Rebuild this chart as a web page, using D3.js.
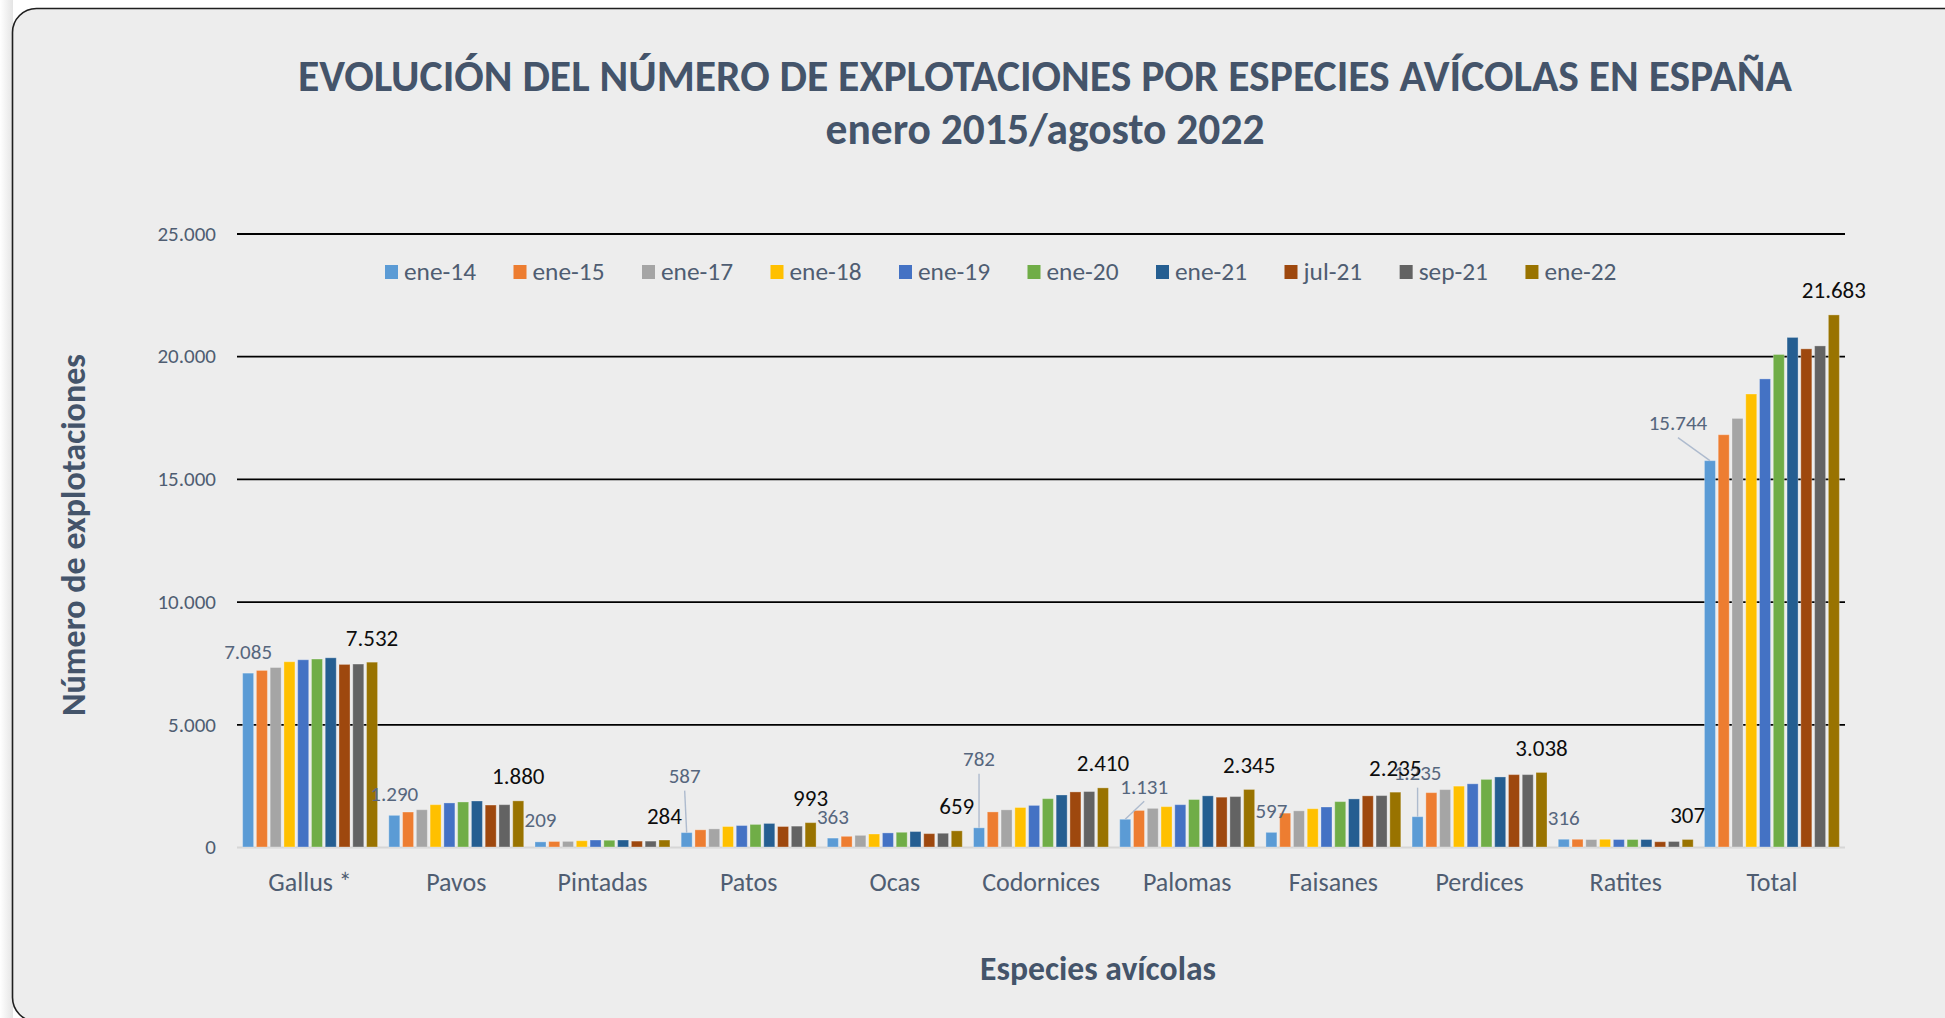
<!DOCTYPE html>
<html>
<head>
<meta charset="utf-8">
<script src="https://cdn.jsdelivr.net/npm/d3@7"></script>
<style>
  body { margin: 0; background: #fff; }
  svg { display: block; }
</style>
</head>
<body>
<svg id="chart" width="1945" height="1018"></svg>
<script>
// categories and series
var categories = ["Gallus *", "Pavos", "Pintadas", "Patos", "Ocas", "Codornices", "Palomas", "Faisanes", "Perdices", "Ratites", "Total"];
var seriesNames = ["ene-14", "ene-15", "ene-17", "ene-18", "ene-19", "ene-20", "ene-21", "jul-21", "sep-21", "ene-22"];

var ene14 = [7085, 1290, 209, 587, 363, 782, 1131, 597, 1235, 316, 15744];
var ene15 = [7195, 1425, 225, 700, 435, 1430, 1490, 1380, 2215, 315, 16800];
var ene17 = [7315, 1520, 230, 740, 475, 1515, 1575, 1475, 2340, 305, 17465];
var ene18 = [7550, 1725, 255, 835, 530, 1610, 1645, 1560, 2480, 315, 18460];
var ene19 = [7630, 1795, 285, 875, 575, 1695, 1725, 1630, 2575, 305, 19075];
var ene20 = [7660, 1835, 275, 920, 600, 1970, 1935, 1850, 2755, 305, 20070];
var ene21 = [7710, 1875, 285, 960, 630, 2120, 2085, 1960, 2855, 305, 20765];
var jul21 = [7440, 1710, 240, 835, 545, 2245, 2030, 2085, 2950, 215, 20300];
var sep21 = [7455, 1725, 240, 850, 560, 2260, 2055, 2095, 2950, 225, 20420];
var ene22 = [7532, 1880, 284, 993, 659, 2410, 2345, 2235, 3038, 307, 21683];

var yTicks = [0, 5000, 10000, 15000, 20000, 25000];

var seriesValues = [ene14, ene15, ene17, ene18, ene19, ene20, ene21, jul21, sep21, ene22];
var colors = ["#5B9BD5", "#ED7D31", "#A5A5A5", "#FFC000", "#4472C4", "#70AD47", "#255E91", "#9E480E", "#636363", "#997300"];

// ene-14 labels that were dragged away from their bar (with a leader line)
var firstLabelNudge = {
  "Patos": [-2, -35],
  "Codornices": [0, -47],
  "Palomas": [19, -11],
  "Perdices": [0, -22],
  "Total": [-32, -16]
};

var FONT = "Carlito, Calibri, Lato, sans-serif";
var SLATE = "#44546A";

var es = d3.formatLocale({ decimal: ",", thousands: ".", grouping: [3], currency: ["", " €"] });
var fmt = es.format(",d");

var svg = d3.select("#chart");

// fit a text to a given width by changing its font size
function fitWidth(sel, w) {
  var cur = sel.node().getComputedTextLength();
  var fs = parseFloat(sel.attr("font-size"));
  sel.attr("font-size", (fs * w / cur).toFixed(2));
}

// chart frame
var grad = svg.append("defs").append("linearGradient").attr("id", "edge");
grad.append("stop").attr("offset", "0%").attr("stop-color", "#ffffff");
grad.append("stop").attr("offset", "100%").attr("stop-color", "#e4e4e4");
svg.append("rect").attr("x", 0).attr("y", 0).attr("width", 13).attr("height", 1018).attr("fill", "url(#edge)");
svg.append("rect")
  .attr("x", 12.5).attr("y", 8.5)
  .attr("width", 2000).attr("height", 1013)
  .attr("rx", 24)
  .attr("fill", "#EDEDED")
  .attr("stroke", "#1f1f1f")
  .attr("stroke-width", 1.6);

// scales
var x0 = d3.scaleBand().domain(categories).range([237, 1845]).paddingInner(0.058).paddingOuter(0.029);
var x1 = d3.scaleBand().domain(seriesNames).range([0, x0.bandwidth()]).paddingInner(0.2).paddingOuter(0.1);
var y = d3.scaleLinear().domain([0, 25000]).range([847, 233.5]);

// y axis + gridlines
var yAxis = d3.axisLeft(y).tickValues(yTicks).tickSize(-(1845 - 237)).tickPadding(21).tickFormat(fmt);
var gy = svg.append("g").attr("transform", "translate(237,0)").call(yAxis);
gy.select(".domain").remove();
gy.selectAll(".tick line")
  .attr("stroke", function(d) { return d === 0 ? "#d6d6d6" : "#000"; })
  .attr("stroke-width", 1.8);
gy.selectAll(".tick text")
  .attr("font-family", FONT)
  .attr("font-size", 21)
  .attr("fill", "#4F5D72");

// bars
var groups = svg.selectAll("g.cat")
  .data(categories)
  .enter().append("g")
  .attr("class", "cat")
  .attr("transform", function(d) { return "translate(" + x0(d) + ",0)"; });

groups.selectAll("rect")
  .data(function(c, ci) {
    return seriesNames.map(function(s, si) { return { s: s, si: si, v: seriesValues[si][ci] }; });
  })
  .enter().append("rect")
  .attr("x", function(d) { return x1(d.s); })
  .attr("width", x1.bandwidth())
  .attr("y", function(d) { return y(d.v); })
  .attr("height", function(d) { return y(0) - y(d.v); })
  .attr("fill", function(d) { return colors[d.si]; })
  .attr("stroke", "rgba(255,255,255,0.3)")
  .attr("stroke-width", 1);

// data labels: first series (with leader lines where moved) and last series
var first = categories.map(function(c, i) {
  var n = firstLabelNudge[c] || [0, 0];
  var bx = x0(c) + x1("ene-14") + x1.bandwidth() / 2;
  var top = y(ene14[i]);
  return { c: c, v: ene14[i], bx: bx, top: top, lx: bx + n[0], ly: top - 22 + n[1], moved: !!firstLabelNudge[c] };
});

svg.selectAll("line.leader")
  .data(first.filter(function(d) { return d.moved; }))
  .enter().append("line")
  .attr("class", "leader")
  .attr("x1", function(d) { return d.lx; })
  .attr("y1", function(d) { return d.ly + 15; })
  .attr("x2", function(d) { return d.bx; })
  .attr("y2", function(d) { return d.top; })
  .attr("stroke", "#AEBBCE")
  .attr("stroke-width", 1.4);

svg.selectAll("text.lab14")
  .data(first)
  .enter().append("text")
  .attr("class", "lab14")
  .attr("x", function(d) { return d.lx; })
  .attr("y", function(d) { return d.ly + 7.5; })
  .attr("text-anchor", "middle")
  .attr("font-family", FONT)
  .attr("font-size", 21)
  .attr("fill", "#56667D")
  .text(function(d) { return fmt(d.v); });

svg.selectAll("text.lab22")
  .data(categories)
  .enter().append("text")
  .attr("class", "lab22")
  .attr("x", function(d) { return x0(d) + x1("ene-22") + x1.bandwidth() / 2; })
  .attr("y", function(d, i) { return y(ene22[i]) - 25 + 8.5; })
  .attr("text-anchor", "middle")
  .attr("font-family", FONT)
  .attr("font-size", 23)
  .attr("fill", "#0d0d0d")
  .text(function(d, i) { return fmt(ene22[i]); });

// x axis labels
var gx = svg.append("g").attr("transform", "translate(0,847)")
  .call(d3.axisBottom(x0).tickSize(0).tickPadding(26));
gx.select(".domain").remove();
gx.selectAll(".tick text")
  .attr("font-family", FONT)
  .attr("font-size", 26)
  .attr("fill", "#4F5D72");

// legend
var legend = svg.append("g").attr("transform", "translate(385,272)");
var lx = 0;
var legendFont = 21;
seriesNames.forEach(function(s, i) {
  var item = legend.append("g").attr("transform", "translate(" + lx + ",0)");
  item.append("rect").attr("x", 0).attr("y", -7).attr("width", 13).attr("height", 14).attr("fill", colors[i]);
  var t = item.append("text")
    .attr("x", 19).attr("y", 7.5)
    .attr("font-family", FONT)
    .attr("font-size", legendFont)
    .attr("fill", "#4F5D72")
    .text(s);
  if (i === 0) {
    fitWidth(t, 72);
    legendFont = +t.attr("font-size");
  }
  lx += 19 + t.node().getComputedTextLength() + 37.5;
});

// titles
var t1 = svg.append("text")
  .attr("x", 1045).attr("y", 90.5)
  .attr("text-anchor", "middle")
  .attr("font-family", FONT).attr("font-weight", "bold")
  .attr("font-size", 36).attr("fill", SLATE)
  .text("EVOLUCIÓN DEL NÚMERO DE EXPLOTACIONES POR ESPECIES AVÍCOLAS EN ESPAÑA");
fitWidth(t1, 1494);

var t2 = svg.append("text")
  .attr("x", 1045).attr("y", 144)
  .attr("text-anchor", "middle")
  .attr("font-family", FONT).attr("font-weight", "bold")
  .attr("font-size", 36).attr("fill", SLATE)
  .text("enero 2015/agosto 2022");
fitWidth(t2, 439);

var ty = svg.append("text")
  .attr("transform", "translate(85,535) rotate(-90)")
  .attr("text-anchor", "middle")
  .attr("font-family", FONT).attr("font-weight", "bold")
  .attr("font-size", 28).attr("fill", SLATE)
  .text("Número de explotaciones");
fitWidth(ty, 362);

var tx = svg.append("text")
  .attr("x", 1098).attr("y", 980)
  .attr("text-anchor", "middle")
  .attr("font-family", FONT).attr("font-weight", "bold")
  .attr("font-size", 26).attr("fill", SLATE)
  .text("Especies avícolas");
fitWidth(tx, 236);
</script>
</body>
</html>
